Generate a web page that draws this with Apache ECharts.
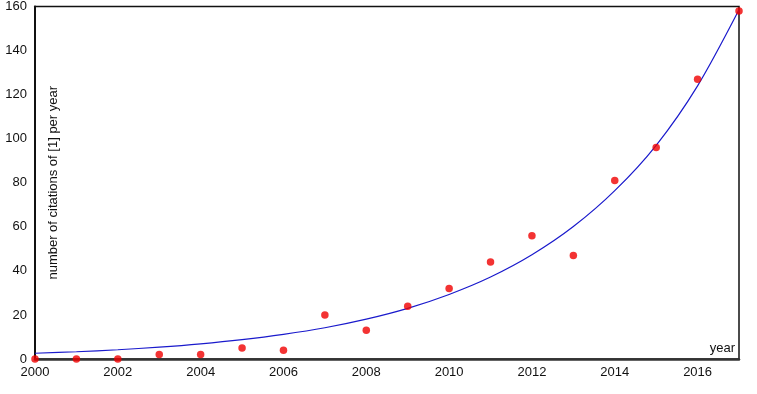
<!DOCTYPE html>
<html>
<head>
<meta charset="utf-8">
<script src="https://cdn.jsdelivr.net/npm/echarts@6/dist/echarts.min.js"></script>
<style>
  html, body { margin: 0; padding: 0; background: #fff; }
  #chart { width: 757px; height: 394px; }
</style>
</head>
<body>
<div id="chart"></div>
<script>
// citations per year (red dots)
var years = [2000, 2001, 2002, 2003, 2004, 2005, 2006, 2007, 2008, 2009,
             2010, 2011, 2012, 2013, 2014, 2015, 2016, 2017];
var citations = [0, 0, 0, 2, 2, 5, 4, 20, 13, 24, 32, 44, 56, 47, 81, 96, 127, 158];
// fitted curve (blue) at each year
var fitValues = [2.6, 3.3, 4.2, 5.4, 6.9, 8.8, 11.2, 14.2, 18.1, 23, 29.3, 37.2,
                 47.3, 60.1, 76.4, 97, 124, 158.5];
var xTicks = [2000, 2002, 2004, 2006, 2008, 2010, 2012, 2014, 2016];
var yTicks = [0, 20, 40, 60, 80, 100, 120, 140, 160];

var chart = echarts.init(document.getElementById('chart'));

var font = 'Liberation Sans, Arial, Helvetica, sans-serif';

var option = {
    animation: false,
    grid: {
        left: 35, right: 18, top: 6, bottom: 35,
        show: true, borderColor: '#111', borderWidth: 1.5
    },
    xAxis: {
        type: 'value',
        min: xTicks[0],
        max: years[years.length - 1],
        interval: 2,
        name: 'year',
        nameLocation: 'end',
        nameGap: -4,
        nameTextStyle: {
            fontFamily: font, fontSize: 13, color: '#111',
            align: 'right', verticalAlign: 'bottom', padding: [0, 0, 4, 0]
        },
        axisLine: { lineStyle: { color: '#333', width: 2.5 } },
        axisTick: { show: false },
        splitLine: { show: false },
        axisLabel: {
            fontFamily: font, fontSize: 13, color: '#111', margin: 7,
            showMaxLabel: false,
            formatter: function (v) { return xTicks.indexOf(v) >= 0 ? String(v) : ''; }
        }
    },
    yAxis: {
        type: 'value',
        min: yTicks[0],
        max: yTicks[yTicks.length - 1],
        interval: 20,
        name: 'number of citations of [1] per year',
        nameLocation: 'middle',
        nameRotate: 90,
        nameGap: -25,
        nameTextStyle: { fontFamily: font, fontSize: 13, color: '#111' },
        axisLine: { lineStyle: { color: '#111', width: 2 } },
        axisTick: { show: false },
        splitLine: { show: false },
        axisLabel: { fontFamily: font, fontSize: 13, color: '#111', margin: 8 }
    },
    series: [
        {
            name: 'fit',
            type: 'line',
            smooth: 0.3,
            showSymbol: false,
            data: years.map(function (y, i) { return [y, fitValues[i]]; }),
            lineStyle: { color: '#1a1acc', width: 1.2 },
            z: 2
        },
        {
            name: 'citations',
            type: 'scatter',
            symbolSize: 7.5,
            data: years.map(function (y, i) { return [y, citations[i]]; }),
            itemStyle: { color: '#f00000' },
            z: 3
        }
    ]
};

chart.setOption(option);
</script>
</body>
</html>
